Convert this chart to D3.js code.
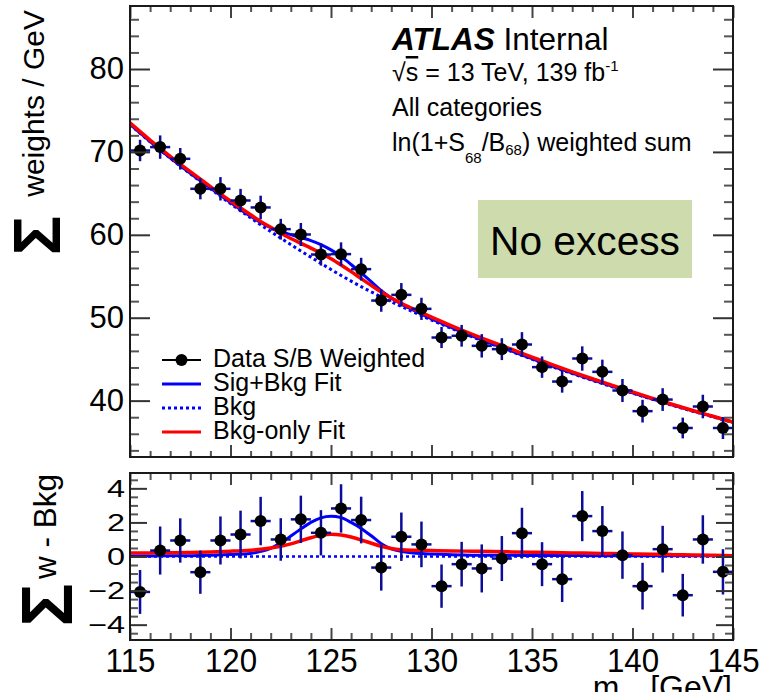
<!DOCTYPE html>
<html>
<head>
<meta charset="utf-8">
<script src="https://cdn.jsdelivr.net/npm/d3@7"></script>
<style>
  body { margin: 0; background: #fff; }
  svg { display: block; }
  text { font-family: "Liberation Sans", Arial, Helvetica, sans-serif; fill: #000; }
</style>
</head>
<body>
<svg id="chart" width="761" height="692"></svg>
<script>
// ---- binned data: weighted event sums per 1 GeV bin ----
const binCenters = [115.5,116.5,117.5,118.5,119.5,120.5,121.5,122.5,123.5,124.5,
                    125.5,126.5,127.5,128.5,129.5,130.5,131.5,132.5,133.5,134.5,
                    135.5,136.5,137.5,138.5,139.5,140.5,141.5,142.5,143.5,144.5];
const dataWeighted = [70.17,70.58,69.17,65.55,65.55,64.14,63.30,60.68,60.04,57.62,
                      57.67,55.86,52.07,52.76,51.07,47.61,47.82,46.61,46.21,46.77,
                      44.04,42.30,45.08,43.47,41.22,38.73,40.13,36.70,39.29,36.70];
const dataError = [1.29,1.41,1.30,1.27,1.41,1.40,1.42,1.25,1.39,1.33,
                   1.42,1.37,1.35,1.42,1.34,1.27,1.31,1.41,1.32,1.49,
                   1.29,1.34,1.47,1.47,1.39,1.37,1.37,1.25,1.42,1.33];
// data minus the background component of the S+B fit
const dataResidual = [-2.08,0.35,0.94,-0.92,0.94,1.29,2.08,1.00,2.18,1.39,
                      2.82,2.14,-0.65,1.16,0.71,-1.74,-0.45,-0.70,-0.12,1.37,
                      -0.45,-1.33,2.37,1.49,0.08,-1.74,0.43,-2.27,1.00,-0.90];

// ---- fit curves sampled in m_yy ----
const curveMass = [115,116,117,118,119,120,121,121.5,122,122.5,123,123.5,124,124.5,125,125.5,
                   126,126.5,127,127.5,128,128.5,129,129.5,130,131,132,133,134,135,136,137,
                   138,139,140,141,142,143,144,145];
const bkgComponent = [73.30,71.22,69.25,67.37,65.55,63.77,62.05,61.20,60.40,59.60,58.82,58.05,57.30,56.55,55.82,55.10,
                      54.42,53.75,53.12,52.50,51.92,51.35,50.80,50.25,49.72,48.70,47.72,46.80,45.90,45.00,44.11,43.26,
                      42.45,41.66,40.90,40.15,39.42,38.72,38.04,37.36];
const sigBkgFit = [73.32,71.25,69.29,67.42,65.63,63.89,62.23,61.50,60.88,60.40,60.02,59.67,59.30,58.82,58.18,57.38,
                   56.42,55.40,54.34,53.25,52.37,51.65,51.02,50.42,49.86,48.80,47.80,46.87,45.97,45.06,44.17,43.32,
                   42.50,41.71,40.95,40.20,39.47,38.77,38.09,37.41];
const bkgOnlyFit = [73.50,71.43,69.47,67.61,65.82,64.08,62.42,61.62,60.90,60.20,59.56,58.97,58.40,57.79,57.12,56.36,
                    55.56,54.72,53.90,53.10,52.39,51.75,51.17,50.61,50.07,49.03,48.03,47.09,46.17,45.25,44.34,43.47,
                    42.64,41.83,41.05,40.28,39.53,38.81,38.11,37.41];
// curves minus the background component
const sigBkgResidual = [0.02,0.03,0.04,0.05,0.08,0.12,0.18,0.30,0.48,0.80,1.20,1.62,2.00,2.27,2.36,2.28,
                        2.00,1.65,1.22,0.75,0.45,0.30,0.22,0.17,0.14,0.10,0.08,0.07,0.07,0.06,0.06,0.06,
                        0.05,0.05,0.05,0.05,0.05,0.05,0.05,0.05];
const bkgOnlyResidual = [0.20,0.21,0.22,0.24,0.27,0.31,0.37,0.42,0.50,0.60,0.74,0.92,1.10,1.24,1.30,1.26,
                         1.14,0.97,0.78,0.60,0.47,0.40,0.37,0.36,0.35,0.33,0.31,0.29,0.27,0.25,0.23,0.21,
                         0.19,0.17,0.15,0.13,0.11,0.09,0.07,0.05];
const bkgResidual = [0, 0];

// ---- axis ticks ----
const xMajorTicks = [115,120,125,130,135,140,145];
const xMinorTicks = d3.range(116,145).filter(v => v % 5 !== 0);
const yTopMajor = [40,50,60,70,80];
const yTopMinor = d3.range(34,88,2).filter(v => v % 10 !== 0);
const yBotMajor = [-4,-2,0,2,4];
const yBotMinor = d3.range(-4.5,4.51,0.5).filter(v => Math.abs(v % 2) > 1e-9);

const legendLabels = ["Data S/B Weighted","Sig+Bkg Fit","Bkg","Bkg-only Fit"];

// ---- layout ----
const svg = d3.select("#chart");
const L = 130, R = 733;
const topT = 6, topB = 457, botT = 473, botB = 640;

const x = d3.scaleLinear().domain([115,145]).range([L,R]);
const yTop = d3.scaleLinear().domain([33.2,87.6]).range([topB,topT]);
const yBot = d3.scaleLinear().domain([-4.9,4.9]).range([botB,botT]);

const RED = "#ff0000", BLUE = "#0000ff", ERR = "#0c0c9a";

svg.append("defs").call(d => {
  d.append("clipPath").attr("id","clipTop").append("rect")
    .attr("x",L).attr("y",topT).attr("width",R-L).attr("height",topB-topT);
  d.append("clipPath").attr("id","clipBot").append("rect")
    .attr("x",L).attr("y",botT).attr("width",R-L).attr("height",botB-botT);
});

function stretch(sel, sx) {
  sel.each(function() {
    const t = d3.select(this);
    const ax = +t.attr("x") || 0;
    t.attr("transform", `translate(${ax},0) scale(${sx},1) translate(${-ax},0)`);
  });
}

function styleTicks(g, color) {
  g.select(".domain").remove();
  g.selectAll(".tick line").attr("stroke", color).attr("stroke-width", 2);
}

// draws ticks on all four sides of a panel
function panelAxes(yScale, yMajor, yMinor, top, bottom, o) {
  const g = svg.append("g");
  // x ticks, bottom edge (pointing in)
  g.append("g").attr("transform",`translate(0,${bottom})`)
    .call(d3.axisBottom(x).tickValues(xMinorTicks).tickSize(-o.xMinor).tickFormat(""))
    .call(s => styleTicks(s,"#555"));
  const xb = g.append("g").attr("transform",`translate(0,${bottom})`)
    .call(d3.axisBottom(x).tickValues(xMajorTicks).tickSize(-o.xMajor)
      .tickPadding(o.xPad).tickFormat(o.xLabels ? d3.format("d") : ""))
    .call(s => styleTicks(s,"#444"));
  if (o.xLabels) {
    xb.selectAll(".tick text").attr("font-size", o.xFont).attr("fill","#000")
      .attr("font-family","Liberation Sans, Arial, sans-serif").call(s => stretch(s, o.xStretch));
  }
  // x ticks, top edge
  g.append("g").attr("transform",`translate(0,${top})`)
    .call(d3.axisTop(x).tickValues(xMinorTicks).tickSize(-o.xMinor).tickFormat(""))
    .call(s => styleTicks(s,"#555"));
  g.append("g").attr("transform",`translate(0,${top})`)
    .call(d3.axisTop(x).tickValues(xMajorTicks).tickSize(-o.xMajor).tickFormat(""))
    .call(s => styleTicks(s,"#444"));
  // y ticks, left edge with labels
  g.append("g").attr("transform",`translate(${L},0)`)
    .call(d3.axisLeft(yScale).tickValues(yMinor).tickSize(-o.yMinor).tickFormat(""))
    .call(s => styleTicks(s,"#555"));
  const yl = g.append("g").attr("transform",`translate(${L},0)`)
    .call(d3.axisLeft(yScale).tickValues(yMajor).tickSize(-o.yMajor).tickPadding(o.yPad)
      .tickFormat(d3.format("d")))
    .call(s => styleTicks(s,"#333"));
  yl.selectAll(".tick text").attr("font-size", o.yFont).attr("fill","#000")
    .attr("font-family","Liberation Sans, Arial, sans-serif").call(s => stretch(s, o.yStretch));
  // y ticks, right edge
  g.append("g").attr("transform",`translate(${R},0)`)
    .call(d3.axisRight(yScale).tickValues(yMinor).tickSize(-o.yMinor).tickFormat(""))
    .call(s => styleTicks(s,"#555"));
  g.append("g").attr("transform",`translate(${R},0)`)
    .call(d3.axisRight(yScale).tickValues(yMajor).tickSize(-o.yMajor).tickFormat(""))
    .call(s => styleTicks(s,"#333"));
  // frame
  g.append("rect").attr("x",L).attr("y",top).attr("width",R-L).attr("height",bottom-top)
    .attr("fill","none").attr("stroke","#1a1a1a").attr("stroke-width",2);
}

// ---------------- upper panel ----------------
const upper = svg.append("g").attr("clip-path","url(#clipTop)");
const lineTop = vals => d3.line().curve(d3.curveMonotoneX)
  .x((d,i) => x(curveMass[i])).y(d => yTop(d))(vals);

upper.append("path").attr("d", lineTop(bkgComponent)).attr("fill","none")
  .attr("stroke",BLUE).attr("stroke-width",3).attr("stroke-dasharray","3,3");
upper.append("path").attr("d", lineTop(sigBkgFit)).attr("fill","none")
  .attr("stroke",BLUE).attr("stroke-width",3);
upper.append("path").attr("d", lineTop(bkgOnlyFit)).attr("fill","none")
  .attr("stroke",RED).attr("stroke-width",3.5);

function drawPoints(g, yScale, values) {
  const pts = g.selectAll(null).data(binCenters.map((m,i) => ({m, v: values[i], e: dataError[i]})))
    .join("g");
  pts.append("line").attr("x1",d => x(d.m-0.5)).attr("x2",d => x(d.m+0.5))
    .attr("y1",d => yScale(d.v)).attr("y2",d => yScale(d.v))
    .attr("stroke",ERR).attr("stroke-width",2.5);
  pts.append("line").attr("x1",d => x(d.m)).attr("x2",d => x(d.m))
    .attr("y1",d => yScale(d.v - d.e)).attr("y2",d => yScale(d.v + d.e))
    .attr("stroke",ERR).attr("stroke-width",2.5);
  pts.append("circle").attr("cx",d => x(d.m)).attr("cy",d => yScale(d.v)).attr("r",6)
    .attr("fill","#000");
}
drawPoints(upper, yTop, dataWeighted);

panelAxes(yTop, yTopMajor, yTopMinor, topT, topB,
  {xMajor:12, xMinor:6, yMajor:20, yMinor:9, xLabels:false, xPad:0,
   yPad:6, yFont:31, yStretch:1});

// ---------------- lower panel ----------------
const lower = svg.append("g").attr("clip-path","url(#clipBot)");
const lineBot = vals => d3.line().curve(d3.curveMonotoneX)
  .x((d,i) => x(curveMass[i])).y(d => yBot(d))(vals);

lower.append("line").attr("x1",x(115)).attr("x2",x(145))
  .attr("y1",yBot(bkgResidual[0])).attr("y2",yBot(bkgResidual[1]))
  .attr("stroke",BLUE).attr("stroke-width",2.5).attr("stroke-dasharray","3,3");
lower.append("path").attr("d", lineBot(sigBkgResidual)).attr("fill","none")
  .attr("stroke",BLUE).attr("stroke-width",3);
lower.append("path").attr("d", lineBot(bkgOnlyResidual)).attr("fill","none")
  .attr("stroke",RED).attr("stroke-width",3.5);
drawPoints(lower, yBot, dataResidual);

panelAxes(yBot, yBotMajor, yBotMinor, botT, botB,
  {xMajor:12, xMinor:7, yMajor:17, yMinor:8, xLabels:true, xPad:8, xFont:34, xStretch:0.92,
   yPad:5, yFont:24, yStretch:1.35});

// ---------------- axis titles ----------------
svg.append("text").attr("transform","translate(44,10) rotate(-90)")
  .attr("text-anchor","end").attr("font-size",30).text("weights / GeV");
svg.append("text").attr("transform","translate(60,235.5) rotate(-90)")
  .attr("text-anchor","middle").attr("font-size",66).attr("font-weight","bold").text("Σ");
svg.append("text").attr("transform","translate(56,474) rotate(-90)")
  .attr("text-anchor","end").attr("font-size",31.5).text("w - Bkg");
svg.append("text").attr("transform","translate(72,605) rotate(-90)")
  .attr("text-anchor","middle").attr("font-size",72).attr("font-weight","bold").text("Σ");

const xt = svg.append("text").attr("x",732).attr("y",698).attr("text-anchor","end")
  .attr("font-size",32);
xt.append("tspan").text("m");
xt.append("tspan").attr("font-size",22).attr("dy",8).text("γγ");
xt.append("tspan").attr("dy",-8).text(" [GeV]");

// ---------------- labels ----------------
const lab = svg.append("g");
const t1 = lab.append("text").attr("x",392).attr("y",50).attr("font-size",31.5);
t1.append("tspan").attr("font-weight","bold").attr("font-style","italic").text("ATLAS");
t1.append("tspan").text(" Internal");

const t2 = lab.append("text").attr("x",392).attr("y",81).attr("font-size",25);
t2.append("tspan").text("√");
t2.append("tspan").attr("text-decoration","overline").text("s");
t2.append("tspan").text(" = 13 TeV, 139 fb");
t2.append("tspan").attr("font-size",15).attr("dy",-10).text("-1");

lab.append("text").attr("x",392).attr("y",116).attr("font-size",25).text("All categories");

const t4 = lab.append("text").attr("x",392).attr("y",151).attr("font-size",25);
t4.append("tspan").text("ln(1+S");
t4.append("tspan").attr("font-size",15).attr("dy",12).text("68");
t4.append("tspan").attr("dy",-12).text("/B");
t4.append("tspan").attr("font-size",15).attr("dy",4).text("68");
t4.append("tspan").attr("dy",-4).text(") weighted sum");

// highlighted note
lab.append("rect").attr("x",478).attr("y",200).attr("width",214).attr("height",78)
  .attr("fill","#cedcad");
const note = lab.append("text").attr("x",585).attr("y",255).attr("text-anchor","middle")
  .attr("font-family","Lato, 'Open Sans', sans-serif").attr("font-size",42).text("No excess");
{
  const w = note.node().getComputedTextLength();
  note.attr("font-size", 42 * 190 / w);
}

// ---------------- legend ----------------
const legY = [360,384,408,432];
const leg = svg.append("g");
leg.append("line").attr("x1",162).attr("x2",201).attr("y1",legY[0]).attr("y2",legY[0])
  .attr("stroke","#000").attr("stroke-width",2);
leg.append("circle").attr("cx",181.5).attr("cy",legY[0]).attr("r",6).attr("fill","#000");
leg.append("line").attr("x1",162).attr("x2",201).attr("y1",legY[1]).attr("y2",legY[1])
  .attr("stroke",BLUE).attr("stroke-width",3);
leg.append("line").attr("x1",162).attr("x2",201).attr("y1",legY[2]).attr("y2",legY[2])
  .attr("stroke",BLUE).attr("stroke-width",3).attr("stroke-dasharray","3,3");
leg.append("line").attr("x1",162).attr("x2",201).attr("y1",legY[3]).attr("y2",legY[3])
  .attr("stroke",RED).attr("stroke-width",3);
leg.selectAll(null).data(legendLabels).join("text")
  .attr("x",213).attr("y",(d,i) => legY[i] + 7).attr("font-size",25).text(d => d);
</script>
</body>
</html>
